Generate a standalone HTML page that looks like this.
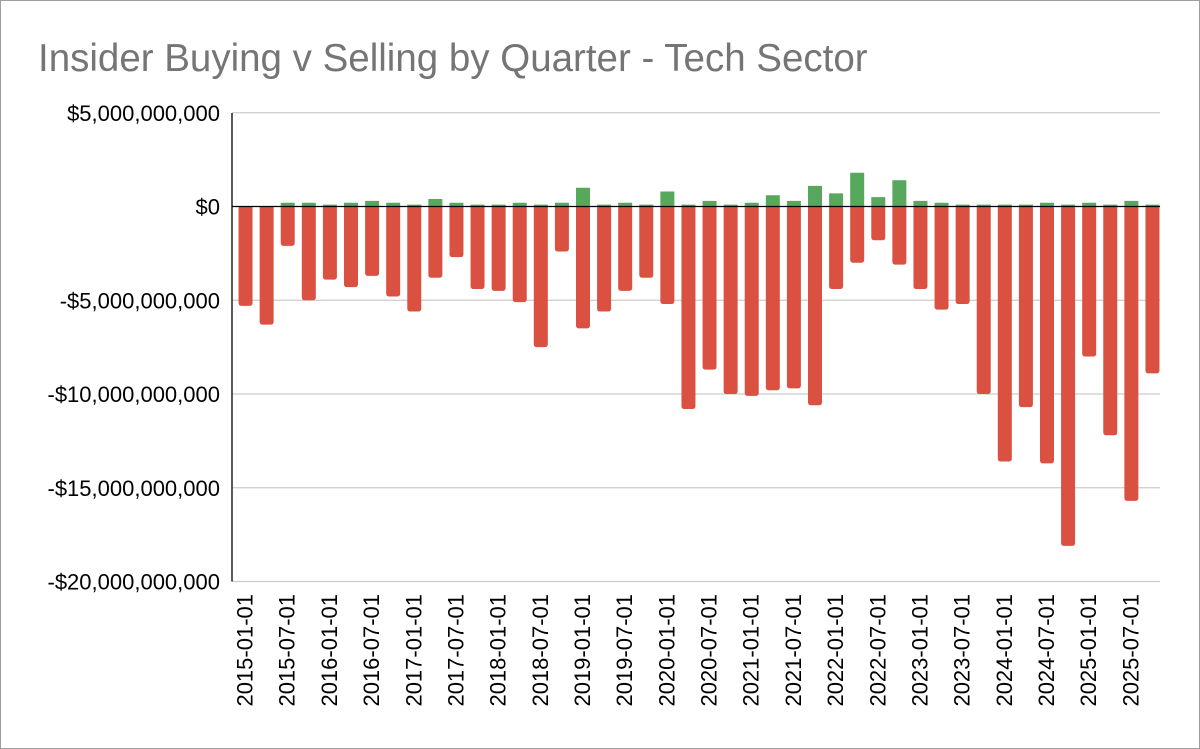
<!DOCTYPE html>
<html><head><meta charset="utf-8"><style>
html,body{margin:0;padding:0;background:#fff}
svg{display:block;font-family:"Liberation Sans",Arial,sans-serif}
</style></head><body>
<svg id="chart" width="1200" height="749" viewBox="0 0 1200 749">
<rect x="0.5" y="0.5" width="1199" height="748" fill="#fff" stroke="#9e9e9e"/>
<text x="38" y="71" font-size="38.5" fill="#757575">Insider Buying v Selling by Quarter - Tech Sector</text>
<g id="grid"></g><g id="bars"></g><g id="axes"></g>
</svg>
<script>
const buying=[0,0,0.2,0.2,0.1,0.2,0.3,0.2,0.1,0.4,0.2,0.1,0.1,0.2,0.1,0.2,1.0,0.1,0.2,0.1,0.8,0.1,0.3,0.1,0.2,0.6,0.3,1.1,0.7,1.8,0.5,1.4,0.3,0.2,0.1,0.1,0.1,0.1,0.2,0.1,0.2,0.1,0.3,0.1];
const selling=[-5.3,-6.3,-2.1,-5.0,-3.9,-4.3,-3.7,-4.8,-5.6,-3.8,-2.7,-4.4,-4.5,-5.1,-7.5,-2.4,-6.5,-5.6,-4.5,-3.8,-5.2,-10.8,-8.7,-10.0,-10.1,-9.8,-9.7,-10.6,-4.4,-3.0,-1.8,-3.1,-4.4,-5.5,-5.2,-10.0,-13.6,-10.7,-13.7,-18.1,-8.0,-12.2,-15.7,-8.9];
const yTicks=[5,0,-5,-10,-15,-20];
const yTickLabels=["$5,000,000,000","$0","-$5,000,000,000","-$10,000,000,000","-$15,000,000,000","-$20,000,000,000"];
const startYear=2015;
const NS="http://www.w3.org/2000/svg";
const X0=232,X1=1160,Y5=113,Y0=206.5,PER=18.75;
function y(v){return Y0-v*PER;}
const n=selling.length, step=(X1-X0)/n, bw=14;
function xc(i){return X0+step*(i+0.5)+3;}
function mk(t,a,p){const e=document.createElementNS(NS,t);for(const k in a)e.setAttribute(k,a[k]);p.appendChild(e);return e;}
const grid=document.getElementById('grid'),bars=document.getElementById('bars'),axes=document.getElementById('axes');
yTicks.forEach((v,i)=>{
  if(v!==0){const l=mk('line',{x1:X0,x2:X1,y1:y(v),y2:y(v),stroke:'#cccccc','stroke-width':1.3},grid);
  
  }
  const t=mk('text',{x:220,y:y(v)+8,'text-anchor':'end','font-size':22,fill:'#000'},axes);
  t.textContent=yTickLabels[i];
  
  
});
for(let i=0;i<n;i++){
  const x=xc(i)-bw/2;
  if(buying[i]>0){const g=mk('rect',{x:x,y:y(buying[i]),width:bw,height:Y0-y(buying[i]),fill:'#57a75d'},bars);
  
  }
  const h=y(selling[i])-Y0;
  const r=mk('path',{d:`M${x},${Y0}h${bw}v${h-3}q0,3 -3,3h${-(bw-6)}q-3,0 -3,-3z`,fill:'#db5141'},bars);
  
  
  if(i%2===0){
    const yr=startYear+Math.floor(i/4), mo=(i%4)*3+1;
    const lab=`${yr}-${String(mo).padStart(2,'0')}-01`;
    const t=mk('text',{transform:`translate(${xc(i)+7},594) rotate(-90)`,'text-anchor':'end','font-size':22,fill:'#000'},axes);
    t.textContent=lab;
    
    
  }
}
const za=mk('line',{x1:X0,x2:X1,y1:Y0,y2:Y0,stroke:'#000','stroke-width':1.3},axes);


const ya=mk('line',{x1:X0,x2:X0,y1:Y5,y2:y(-20),stroke:'#000','stroke-width':1.3},axes);


</script>
</body></html>
